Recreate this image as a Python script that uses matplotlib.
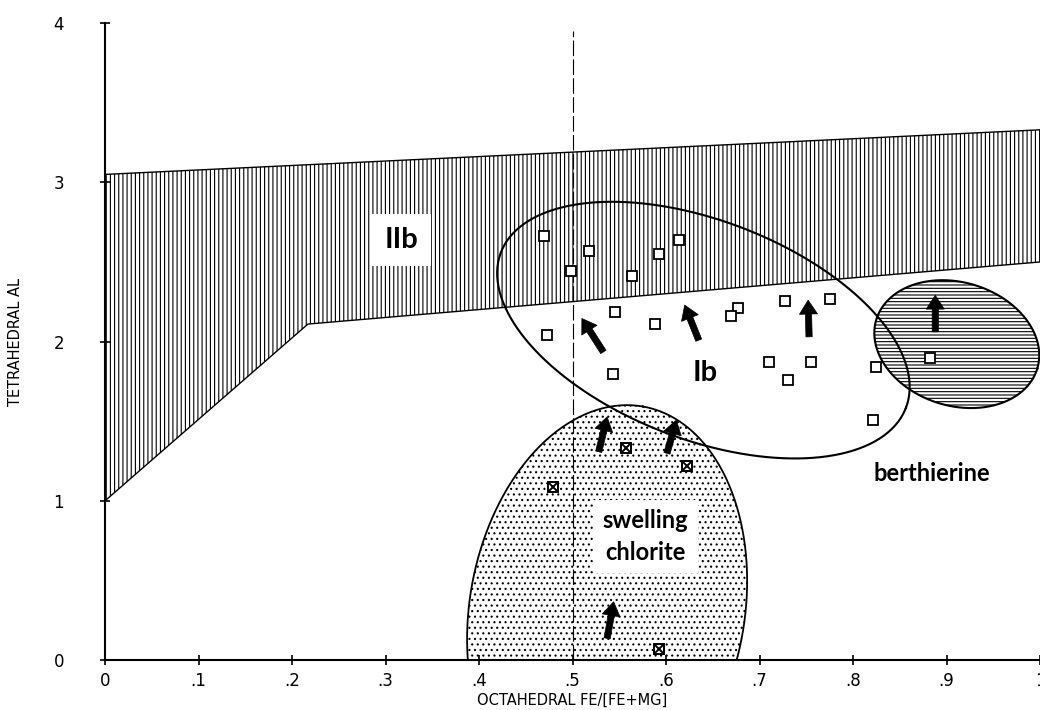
import numpy as np
import matplotlib
matplotlib.use("Agg")
import matplotlib.pyplot as plt

plt.rcParams['hatch.linewidth'] = 0.8

# --- data ---
# field IIb: upper and lower bounds (octahedral Fe/(Fe+Mg), tetrahedral Al)
iib_top_x = [0.0, 1.0]
iib_top_y = [3.05, 3.33]
iib_bot_x = [0.0, 0.217, 1.0]
iib_bot_y = [1.0, 2.11, 2.50]

# open squares (Ib and berthierine samples)
sq_x = [0.469, 0.498, 0.518, 0.564, 0.592, 0.614, 0.545, 0.473, 0.588, 0.677,
        0.670, 0.727, 0.775, 0.543, 0.710, 0.730, 0.755, 0.825, 0.821, 0.882]
sq_y = [2.662, 2.442, 2.567, 2.411, 2.547, 2.641, 2.185, 2.040, 2.113, 2.212,
        2.159, 2.256, 2.265, 1.795, 1.871, 1.758, 1.874, 1.842, 1.507, 1.900]

# crossed squares (swelling chlorite samples)
cs_x = [0.557, 0.622, 0.479, 0.593]
cs_y = [1.329, 1.218, 1.088, 0.067]

# arrows: tail -> head
arr_tail_x = [0.533, 0.635, 0.753, 0.888, 0.528, 0.601, 0.537]
arr_tail_y = [1.935, 2.009, 2.030, 2.061, 1.308, 1.298, 0.136]
arr_head_x = [0.510, 0.620, 0.752, 0.888, 0.537, 0.611, 0.544]
arr_head_y = [2.145, 2.229, 2.260, 2.291, 1.527, 1.507, 0.366]

# fields drawn as ellipses: centre x, centre y, semi-axes (in x units), angle
ib_field = (0.640, 2.072, 0.232, 0.117, -21)
chlorite_field = (0.537, 0.314, 0.221, 0.147, 80)
berth_field = (0.911, 1.984, 0.090, 0.066, -17)

fig = plt.figure(figsize=(10.4, 7.1), dpi=100)
ax = fig.add_axes([0.101, 0.0704, 0.899, 0.897])
ax.set_xlim(0, 1)
ax.set_ylim(0, 4)

# y units per x unit on screen, so ellipses keep their drawn shape
pos = ax.get_position()
aspect = (pos.width * 1040 / 1.0) / (pos.height * 710 / 4.0)


def field_outline(cx, cy, a, b, ang, n=300):
    t = np.linspace(0, 2 * np.pi, n)
    u = a * np.cos(t)
    v = b * np.sin(t)
    r = np.deg2rad(ang)
    x = cx + u * np.cos(r) - v * np.sin(r)
    y = cy + (u * np.sin(r) + v * np.cos(r)) * aspect
    return x, y


# IIb hatched band
top_on_bot = np.interp(iib_bot_x, iib_top_x, iib_top_y)
poly_x = list(iib_bot_x) + list(iib_bot_x[::-1])
poly_y = list(iib_bot_y) + list(top_on_bot[::-1])
ax.fill(poly_x, poly_y, facecolor='white', edgecolor='black', hatch='||||',
        linewidth=0, zorder=1)
ax.plot(iib_top_x, iib_top_y, color='black', lw=1.0, zorder=2)
ax.plot(iib_bot_x, iib_bot_y, color='black', lw=1.0, zorder=2)

# swelling chlorite (dotted)
cx, cy = field_outline(*chlorite_field)
ax.fill(cx, cy, facecolor='none', edgecolor='black', hatch='...',
        linewidth=0, zorder=3)
ax.plot(cx, cy, color='black', lw=1.3, zorder=4)

# berthierine (horizontal lines)
bx, by = field_outline(*berth_field)
ax.fill(bx, by, facecolor='white', edgecolor='black', hatch='-----',
        linewidth=0, zorder=3)
ax.plot(bx, by, color='black', lw=1.5, zorder=4)

# Ib field outline
ix, iy = field_outline(*ib_field)
ax.plot(ix, iy, color='black', lw=1.5, zorder=4)

# Fe/(Fe+Mg) = 0.5
ax.plot([0.5, 0.5], [0, 3.95], color='black', lw=0.8,
        dashes=(14, 3), zorder=2)

# samples
ax.plot(sq_x, sq_y, 's', ms=6.5, mfc='white', mec='black', mew=1.3,
        ls='none', zorder=6)
ax.plot(cs_x, cs_y, 's', ms=7, mfc='white', mec='black', mew=1.4,
        ls='none', zorder=6)
ax.plot(cs_x, cs_y, 'x', ms=6, mec='black', mew=1.4, ls='none', zorder=7)

for tx, ty, hx, hy in zip(arr_tail_x, arr_tail_y, arr_head_x, arr_head_y):
    ax.annotate('', xy=(hx, hy), xytext=(tx, ty),
                arrowprops=dict(arrowstyle='simple,head_length=1.0,head_width=1.3,tail_width=0.45',
                                fc='black', ec='black', lw=0.5,
                                shrinkA=0, shrinkB=0),
                zorder=8)

# field labels
lab_font = dict(family=['Lato', 'DejaVu Sans'], fontweight='bold', color='black')
ax.text(0.317, 2.64, 'IIb', fontsize=21, ha='center', va='center', zorder=9,
        bbox=dict(boxstyle='square,pad=0.45', fc='white', ec='none'), **lab_font)
ax.text(0.642, 1.80, 'Ib', fontsize=21, ha='center', va='center', zorder=9,
        **lab_font)
ax.text(0.578, 0.775, 'swelling\nchlorite', fontsize=17, ha='center',
        va='center', linespacing=1.45, zorder=9,
        bbox=dict(boxstyle='square,pad=0.4', fc='white', ec='none'), **lab_font)
ax.text(0.884, 1.17, 'berthierine', fontsize=17, ha='center', va='center',
        zorder=9, **lab_font)

# axes styling
for s in ['top', 'right']:
    ax.spines[s].set_visible(False)
for s in ['left', 'bottom']:
    ax.spines[s].set_linewidth(1.5)

tick_font = ['Liberation Sans Narrow', 'DejaVu Sans']
xticks = np.round(np.arange(0, 1.01, 0.1), 1)
ax.set_xticks(xticks)
ax.set_xticklabels(['0', '.1', '.2', '.3', '.4', '.5', '.6', '.7', '.8', '.9', '1'],
                   family=tick_font, fontsize=12)
ax.set_yticks([0, 1, 2, 3, 4])
ax.set_yticklabels(['0', '1', '2', '3', '4'], family=tick_font, fontsize=12)
ax.tick_params(axis='x', direction='inout', length=7, width=1.2, pad=5)
ax.tick_params(axis='y', direction='inout', length=7, width=1.2, pad=26)

ax.set_xlabel('OCTAHEDRAL FE/[FE+MG]', family=tick_font, fontsize=10.5, labelpad=2)
ax.set_ylabel('TETRAHEDRAL AL', family=tick_font, fontsize=10.5, labelpad=22)

fig.savefig('out.png', dpi=100)
